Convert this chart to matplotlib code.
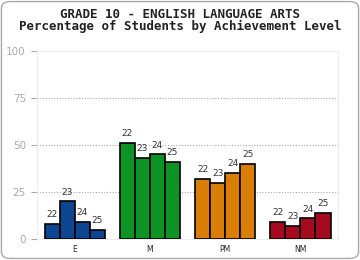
import numpy as np
import matplotlib.pyplot as plt
from matplotlib.patches import FancyBboxPatch

categories = ["E", "M", "PM", "NM"]
years = ["22", "23", "24", "25"]
e_vals = [8, 20, 9, 5]
m_vals = [51, 43, 45, 41]
pm_vals = [32, 30, 35, 40]
nm_vals = [9, 7, 11, 14]
colors = ["#0D4592", "#0E9325", "#D97E07", "#A50A1E"]
yticks = [0, 25, 50, 75, 100]

values = [e_vals, m_vals, pm_vals, nm_vals]

fig = plt.figure(figsize=(3.6, 2.6), dpi=100)
border = FancyBboxPatch((0.004, 0.006), 0.992, 0.988,
                        boxstyle="round,pad=0,rounding_size=0.025",
                        transform=fig.transFigure, fc="white",
                        ec="#AAAAAA", lw=1.0, zorder=-5)
fig.patches.append(border)

fig.text(0.5, 0.945, "GRADE 10 - ENGLISH LANGUAGE ARTS", ha="center", va="center",
         family="DejaVu Sans Mono", weight="bold", fontsize=9.0, color="#222222")
fig.text(0.5, 0.898, "Percentage of Students by Achievement Level", ha="center", va="center",
         family="DejaVu Sans Mono", weight="bold", fontsize=9.0, color="#222222")

ax = fig.add_axes([0.1028, 0.0808, 0.8362, 0.723])
ax.set_facecolor("none")

w = 0.2
x = np.arange(len(categories))
for i, (vals, c) in enumerate(zip(values, colors)):
    for j, v in enumerate(vals):
        xp = x[i] + (j - 1.5) * w
        ax.bar(xp, v, width=w, color=c, edgecolor="black", linewidth=1.2, zorder=3)
        ax.text(xp, v + 2.5, years[j], ha="center", va="bottom", fontsize=6.5,
                color="#333333", zorder=4)

ax.set_xlim(-0.5, 3.5)
ax.set_ylim(0, 100)
ax.set_yticks(yticks)
ax.set_yticklabels([str(t) for t in yticks], fontsize=7.5, color="#AAAAAA")
ax.tick_params(axis="y", length=4, color="#AAAAAA", width=0.8, pad=4)
ax.set_xticks(x)
ax.set_xticklabels(categories, fontsize=5.5, color="#222222")
ax.tick_params(axis="x", length=0, pad=4)

for t in [25, 50, 75]:
    ax.axhline(t, color="#AAAAAA", lw=0.8, ls=(0, (1, 1.5)), zorder=1)
ax.axhline(100, color="#EEEEEE", lw=1.0, zorder=1)

ax.spines["top"].set_visible(False)
ax.spines["left"].set_color("#EEEEEE")
ax.spines["right"].set_color("#EEEEEE")
ax.spines["bottom"].set_color("#EEEEEE")

fig.savefig("out.png", dpi=100)
